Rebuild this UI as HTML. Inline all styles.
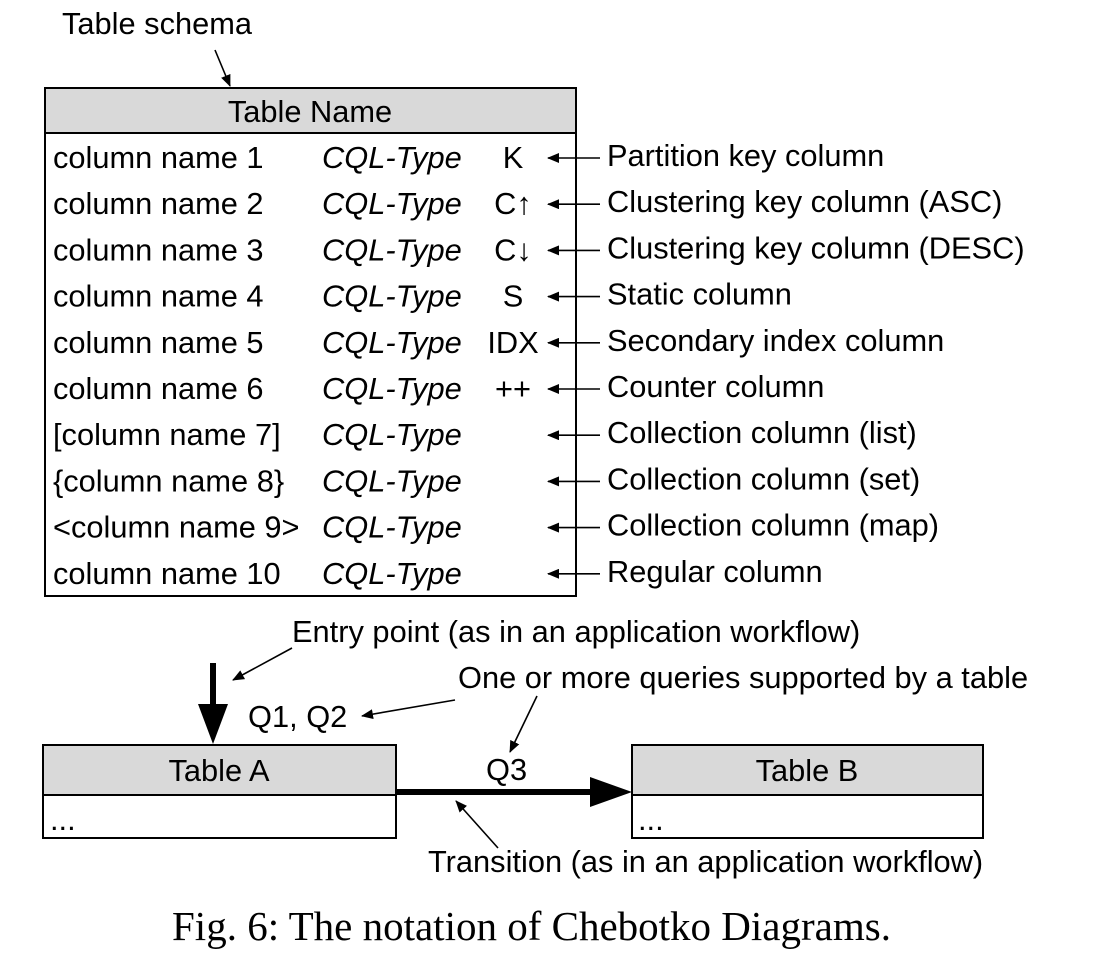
<!DOCTYPE html>
<html><head><meta charset="utf-8"><style>
html,body{margin:0;padding:0;background:#fff;}
svg{display:block;}
text{font-family:"Liberation Sans",sans-serif;font-size:30.8px;fill:#000;}
.it{font-style:italic;}
.cap{font-family:"Liberation Serif",serif;font-size:41px;}
</style></head><body>
<svg width="1105" height="980" viewBox="0 0 1105 980">
<defs>
<marker id="ah" markerWidth="12" markerHeight="10" refX="11" refY="5" orient="auto" markerUnits="userSpaceOnUse">
<path d="M0,0 L12,5 L0,10 z" fill="#000"/></marker>
</defs>
<text x="62" y="34">Table schema</text>
<line x1="215" y1="50" x2="230" y2="86" stroke="#000" stroke-width="1.6" marker-end="url(#ah)"/>
<g>
<rect x="45" y="88" width="531" height="45" fill="#d9d9d9" stroke="#000" stroke-width="2"/>
<rect x="45" y="133" width="531" height="463" fill="#fff" stroke="#000" stroke-width="2"/>
<text x="310" y="122" text-anchor="middle">Table Name</text>
</g>
<g id="rows"></g>
<text x="292" y="642">Entry point (as in an application workflow)</text>
<line x1="292" y1="648" x2="233" y2="680" stroke="#000" stroke-width="1.6" marker-end="url(#ah)"/>
<g>
<line x1="213" y1="663" x2="213" y2="706" stroke="#000" stroke-width="6"/>
<path d="M198,704 L228,704 L213,744 z" fill="#000"/>
</g>
<text x="248" y="727">Q1, Q2</text>
<text x="458" y="688">One or more queries supported by a table</text>
<line x1="455" y1="700" x2="362" y2="716" stroke="#000" stroke-width="1.6" marker-end="url(#ah)"/>
<line x1="537" y1="696" x2="510" y2="752" stroke="#000" stroke-width="1.6" marker-end="url(#ah)"/>
<g>
<rect x="43" y="745" width="353" height="50" fill="#d9d9d9" stroke="#000" stroke-width="2"/>
<rect x="43" y="795" width="353" height="43" fill="#fff" stroke="#000" stroke-width="2"/>
<text x="219" y="781" text-anchor="middle">Table A</text>
<text x="50" y="830">...</text>
</g>
<g>
<rect x="632" y="745" width="351" height="50" fill="#d9d9d9" stroke="#000" stroke-width="2"/>
<rect x="632" y="795" width="351" height="43" fill="#fff" stroke="#000" stroke-width="2"/>
<text x="807" y="781" text-anchor="middle">Table B</text>
<text x="638" y="830">...</text>
</g>
<text x="486" y="780">Q3</text>
<g>
<line x1="396" y1="792" x2="595" y2="792" stroke="#000" stroke-width="6"/>
<path d="M590,777 L632,792 L590,807 z" fill="#000"/>
</g>
<line x1="498" y1="848" x2="456" y2="801" stroke="#000" stroke-width="1.6" marker-end="url(#ah)"/>
<text x="428" y="872">Transition (as in an application workflow)</text>
<text x="172" y="940" class="cap">Fig. 6: The notation of Chebotko Diagrams.</text>
</svg>
<script>
const names=["column name 1","column name 2","column name 3","column name 4","column name 5","column name 6","[column name 7]","{column name 8}","<column name 9>","column name 10"];
const marks=["K","C↑","C↓","S","IDX","++","","","",""];
const descs=["Partition key column","Clustering key column (ASC)","Clustering key column (DESC)","Static column","Secondary index column","Counter column","Collection column (list)","Collection column (set)","Collection column (map)","Regular column"];
const NS="http://www.w3.org/2000/svg";
const g=document.getElementById('rows');
function t(x,y,s,cls,anchor){const e=document.createElementNS(NS,'text');e.setAttribute('x',x);e.setAttribute('y',y);if(cls)e.setAttribute('class',cls);if(anchor)e.setAttribute('text-anchor',anchor);e.textContent=s;g.appendChild(e);return e;}
names.forEach((n,i)=>{
const y=168+i*46.2;
const a=t(53,y,n);


const b=t(322,y,"CQL-Type","it");


if(marks[i]){const c=t(513,y,marks[i],null,'middle');

}
const l=document.createElementNS(NS,'line');
l.setAttribute('x1',600);l.setAttribute('y1',y-10);l.setAttribute('x2',548);l.setAttribute('y2',y-10);
l.setAttribute('stroke','#000');l.setAttribute('stroke-width','1.6');l.setAttribute('marker-end','url(#ah)');


g.appendChild(l);
const d=t(607,y-2,descs[i]);


});
</script>
</body></html>
